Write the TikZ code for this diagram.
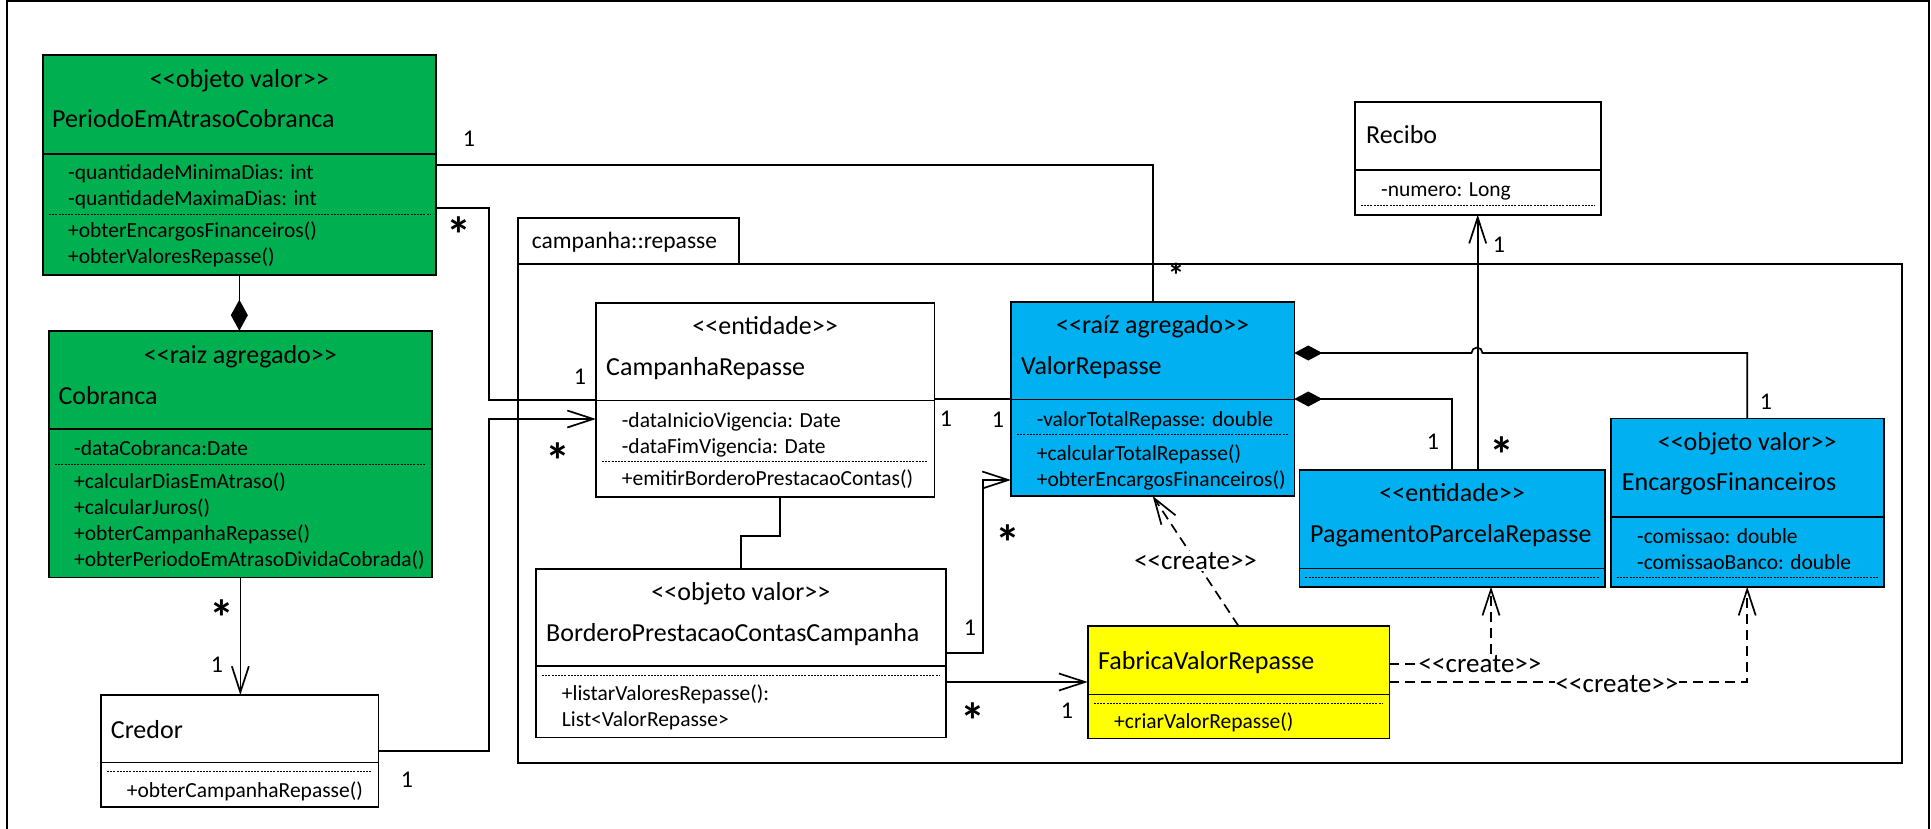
\documentclass[tikz,border=0pt]{standalone}
\usepackage{fontspec}
\setmainfont[Ligatures=TeXOff]{Carlito}
\usetikzlibrary{arrows.meta,calc}
\definecolor{ddgreen}{HTML}{00B050}
\definecolor{ddblue}{HTML}{00B0F0}
\definecolor{ddyellow}{HTML}{FFFF00}

\begin{document}
\begin{tikzpicture}[x=1pt,y=-1pt,
  cls/.style={draw=black, line width=1.6pt, inner sep=0pt, outer sep=0pt, anchor=north west},
  sep/.style={line width=1.6pt},
  dots/.style={line width=0.9pt, dash pattern=on 2pt off 1.2pt},
  stereo/.style={anchor=base, inner sep=0pt, font=\fontsize{26}{30}\selectfont},
  cname/.style={anchor=base west, inner sep=0pt, font=\fontsize{26}{30}\selectfont},
  member/.style={anchor=base west, inner sep=0pt, font=\fontsize{21.5}{26}\selectfont},
  conn/.style={line width=1.7pt},
  nav/.style={conn, -{Straight Barb[length=26pt,width=17pt]}},
  comp/.style={conn, {Diamond[length=28pt,width=15pt]}-},
  dep/.style={conn, dash pattern=on 10pt off 6pt, -{Straight Barb[length=26pt,width=17pt]}},
  mult/.style={inner sep=0pt, font=\fontsize{24}{28}\selectfont},
  many/.style={inner sep=0pt, anchor=base, font=\fontsize{50}{50}\selectfont\bfseries},
  crt/.style={fill=white, inner sep=1pt, font=\fontsize{27}{30}\selectfont},
]
\fill[white] (0,0) rectangle (1931,828);
\useasboundingbox (0,0) rectangle (1931,828);
\draw[line width=2pt] (7,1) rectangle (1929,832);

% package campanha::repasse
\draw[sep] (518,218) rectangle (739,264);
\draw[sep] (518,264) rectangle (1902,763);
\node[anchor=base west, inner sep=0pt, font=\fontsize{23.5}{28}\selectfont] (pkg) at (531.7,248.3) {campanha::repasse};

% PeriodoEmAtrasoCobranca
\node[cls, fill=ddgreen, minimum width=393.3pt, minimum height=220pt] (periodo) at (42.7,55) {};
\draw[sep] (42.7,154) -- (436,154);
\draw[dots] (49,214) -- (430,214);
\node[stereo] (periodoS) at (periodo.north |- 0,87) {<<objeto valor>>};
\node[cname] (periodoN) at (52,127) {PeriodoEmAtrasoCobranca};
\node[member] (periodoA1) at (68,179) {-quantidadeMinimaDias: int};
\node[member] (periodoA2) at (68,205) {-quantidadeMaximaDias: int};
\node[member] (periodoM1) at (68,237) {+obterEncargosFinanceiros()};
\node[member] (periodoM2) at (68,263) {+obterValoresRepasse()};

% Cobranca
\node[cls, fill=ddgreen, minimum width=382.7pt, minimum height=246.6pt] (cobranca) at (49,330.7) {};
\draw[sep] (49,428.7) -- (431.7,428.7);
\draw[dots] (55,464) -- (425.7,464);
\node[stereo] (cobrancaS) at (cobranca.north |- 0,363.3) {<<raiz agregado>>};
\node[cname] (cobrancaN) at (58.3,404) {Cobranca};
\node[member] (cobrancaA1) at (74,455) {-dataCobranca:Date};
\node[member] (cobrancaM1) at (74,488.3) {+calcularDiasEmAtraso()};
\node[member] (cobrancaM2) at (74,514) {+calcularJuros()};
\node[member] (cobrancaM3) at (74,540) {+obterCampanhaRepasse()};
\node[member] (cobrancaM4) at (74,566) {+obterPeriodoEmAtrasoDividaCobrada()};

% Credor
\node[cls, fill=white, minimum width=277.3pt, minimum height=111.7pt] (credor) at (101,695) {};
\draw[sep] (101,762.3) -- (378.3,762.3);
\draw[dots] (107,771.7) -- (372.3,771.7);
\node[cname] (credorN) at (110.7,738.3) {Credor};
\node[member] (credorM1) at (126.7,797.3) {+obterCampanhaRepasse()};

% CampanhaRepasse
\node[cls, fill=white, minimum width=338.3pt, minimum height=194pt] (campanha) at (596,302.7) {};
\draw[sep] (596,400.3) -- (934.3,400.3);
\draw[dots] (602,461.7) -- (928.3,461.7);
\node[stereo] (campanhaS) at (campanha.north |- 0,334.3) {<<entidade>>};
\node[cname] (campanhaN) at (606,375) {CampanhaRepasse};
\node[member] (campanhaA1) at (621.7,427.3) {-dataInicioVigencia: Date};
\node[member] (campanhaA2) at (621.7,453.3) {-dataFimVigencia: Date};
\node[member] (campanhaM1) at (621.7,485) {+emitirBorderoPrestacaoContas()};

% BorderoPrestacaoContasCampanha
\node[cls, fill=white, minimum width=409.7pt, minimum height=168.6pt] (bordero) at (536,568.7) {};
\draw[sep] (536,666) -- (945.7,666);
\draw[dots] (542,675) -- (939.7,675);
\node[stereo] (borderoS) at (bordero.north |- 0,600.7) {<<objeto valor>>};
\node[cname] (borderoN) at (546,641.7) {BorderoPrestacaoContasCampanha};
\node[member] (borderoM1) at (561.7,700) {+listarValoresRepasse():};
\node[member] (borderoM2) at (561.7,726) {List<ValorRepasse>};

% ValorRepasse
\node[cls, fill=ddblue, minimum width=283.3pt, minimum height=194.3pt] (valor) at (1011,301.7) {};
\draw[sep] (1011,399.3) -- (1294.3,399.3);
\draw[dots] (1017,434) -- (1288.3,434);
\node[stereo] (valorS) at (valor.north |- 0,333.3) {<<raíz agregado>>};
\node[cname] (valorN) at (1021,374) {ValorRepasse};
\node[member] (valorA1) at (1036.7,426) {-valorTotalRepasse: double};
\node[member] (valorM1) at (1036.7,460) {+calcularTotalRepasse()};
\node[member] (valorM2) at (1036.7,486) {+obterEncargosFinanceiros()};

% FabricaValorRepasse
\node[cls, fill=ddyellow, minimum width=301.6pt, minimum height=112.3pt] (fabrica) at (1087.7,626) {};
\draw[sep] (1087.7,694.3) -- (1389.3,694.3);
\draw[dots] (1093.7,703) -- (1383.3,703);
\node[cname] (fabricaN) at (1098,669) {FabricaValorRepasse};
\node[member] (fabricaM1) at (1114,728.3) {+criarValorRepasse()};

% Recibo
\node[cls, fill=white, minimum width=246pt, minimum height=112.7pt] (recibo) at (1354.7,102) {};
\draw[sep] (1354.7,170) -- (1600.7,170);
\draw[dots] (1360.7,205) -- (1594.7,205);
\node[cname] (reciboN) at (1366,143.3) {Recibo};
\node[member] (reciboA1) at (1381,196.7) {-numero: Long};

% PagamentoParcelaRepasse
\node[cls, fill=ddblue, minimum width=305.7pt, minimum height=116.7pt] (pagamento) at (1299.3,470) {};
\draw[sep] (1299.3,568.3) -- (1605,568.3);
\draw[dots] (1305.3,577.3) -- (1599,577.3);
\node[stereo] (pagamentoS) at (pagamento.north |- 0,501.7) {<<entidade>>};
\node[cname] (pagamentoN) at (1310,542.7) {PagamentoParcelaRepasse};

% EncargosFinanceiros
\node[cls, fill=ddblue, minimum width=273pt, minimum height=168.4pt] (encargos) at (1610.7,418.3) {};
\draw[sep] (1610.7,516.7) -- (1883.7,516.7);
\draw[dots] (1616.7,577.7) -- (1877.7,577.7);
\node[stereo] (encargosS) at (encargos.north |- 0,450.7) {<<objeto valor>>};
\node[cname] (encargosN) at (1621.7,490.7) {EncargosFinanceiros};
\node[member] (encargosA1) at (1637,543.3) {-comissao: double};
\node[member] (encargosA2) at (1637,569.3) {-comissaoBanco: double};

% associations
\draw[conn] (periodo.east |- 0,165) -| (valor.north);
\draw[conn] (periodo.east |- 0,208) -- (489,208) -- (489,400) -- (campanha.west |- 0,400);
\draw[conn, -{Diamond[length=31pt,width=17pt]}] (periodo.south) -- (cobranca.north -| periodo.south);
\draw[nav] (cobranca.south) -- (cobranca.south |- credor.north);
\draw[nav] (credor.east |- 0,751) -- (489,751) -- (489,419) -- (campanha.west |- 0,419);
\draw[conn] (campanha.east |- 0,399) -- (valor.west |- 0,399);
\draw[conn] (campanha.south -| 780,0) -- (780,536) -- (bordero.north |- 0,536) -- (bordero.north);
\draw[nav] (bordero.east |- 0,653) -- (983,653) -- (983,480) -- (valor.west |- 0,480);
\draw[nav] (bordero.east |- 0,682) -- (fabrica.west |- 0,682);
\draw[comp] (valor.east |- 0,353) -- (1471.5,353) arc[start angle=180,end angle=0,radius=5.5pt] -- (encargos.north |- 0,353) -- (encargos.north);
\draw[comp] (valor.east |- 0,399) -- (pagamento.north |- 0,399) -- (pagamento.north);
\draw[nav] (recibo.south |- pagamento.north) -- (recibo.south);

% creation dependencies
\draw[dep] (fabrica.north) -- node[crt] (crt1) {<<create>>} (valor.south);
\draw[dep] (fabrica.east |- 0,664) -- (1491,664) -- (1491,586.7);
\node[crt] (crt2) at (1480,664) {<<create>>};
\draw[dep] (fabrica.east |- 0,682) -- (encargos.south |- 0,682) -- (encargos.south);
\node[crt] (crt3) at (1617,684) {<<create>>};

% multiplicities
\node[mult] (m1) at (469,139) {1};
\node[many, font=\fontsize{34}{34}\selectfont\bfseries] (m2) at (1176,287) {*};
\node[many] (m3) at (459,252) {*};
\node[mult] (m4) at (580,377) {1};
\node[many] (m5) at (222,635) {*};
\node[mult] (m6) at (217,665) {1};
\node[mult] (m7) at (407,780) {1};
\node[many] (m8) at (558,478) {*};
\node[mult] (m9) at (946,419) {1};
\node[mult] (m10) at (998,420) {1};
\node[mult] (m11) at (970,628) {1};
\node[many] (m12) at (1008,560) {*};
\node[many] (m13) at (973,738) {*};
\node[mult] (m14) at (1067,711) {1};
\node[mult] (m15) at (1433,442) {1};
\node[many] (m16) at (1502,472) {*};
\node[mult] (m17) at (1766,402) {1};
\node[mult] (m18) at (1499,245) {1};
\end{tikzpicture}
\end{document}
